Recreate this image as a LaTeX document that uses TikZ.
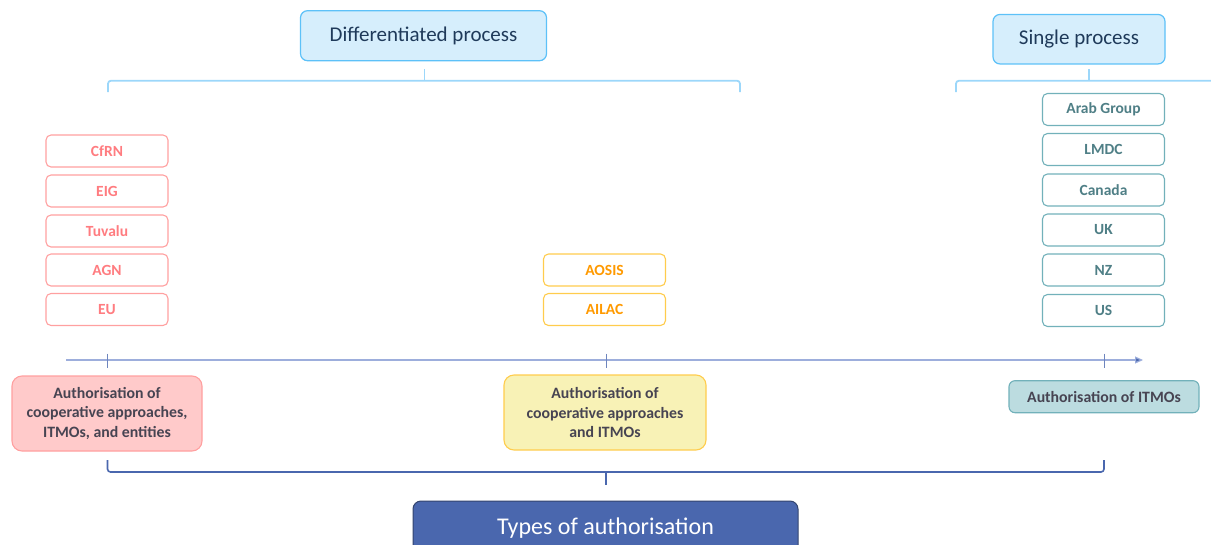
\documentclass[tikz,border=0pt]{standalone}
\usepackage{fontspec}
\setmainfont{Carlito}
\usetikzlibrary{arrows.meta}
\definecolor{procfill}{HTML}{D6EEFC}
\definecolor{procdraw}{HTML}{5DC1F8}
\definecolor{proctext}{HTML}{1F3A5A}
\definecolor{bracelight}{HTML}{9CD7FA}
\definecolor{redtext}{HTML}{FF7C80}
\definecolor{reddraw}{HTML}{FFA0A0}
\definecolor{redfill}{HTML}{FFCACA}
\definecolor{yeltext}{HTML}{FF9A00}
\definecolor{yeldraw}{HTML}{FFCC4D}
\definecolor{yelfill}{HTML}{F8F2B6}
\definecolor{tealtext}{HTML}{4F7F86}
\definecolor{tealdraw}{HTML}{72B1BA}
\definecolor{tealfill}{HTML}{BCDCE0}
\definecolor{darktext}{HTML}{474452}
\definecolor{axisline}{HTML}{9DAEDC}
\definecolor{navy}{HTML}{4A67AE}
\definecolor{navydraw}{HTML}{34456F}
\tikzset{
  x=1pt, y=-1pt,
  procbox/.style={draw=procdraw, fill=procfill, line width=1.2pt, rounded corners=7pt, text=proctext, font=\fontsize{21}{24}\selectfont, inner sep=0pt},
  member/.style={rounded corners=5pt, line width=1.1pt, fill=white, minimum width=122pt, minimum height=32pt, inner sep=0pt, font=\bfseries\fontsize{15.5}{17}\selectfont},
  redm/.style={member, draw=reddraw, text=redtext},
  yelm/.style={member, draw=yeldraw, text=yeltext},
  tealm/.style={member, draw=tealdraw, text=tealtext},
  authbox/.style={rounded corners=10pt, line width=1.1pt, inner sep=0pt, align=center, text=darktext, font=\bfseries\fontsize{15.8}{19.5}\selectfont},
  lightbrace/.style={draw=bracelight, line width=1.8pt, rounded corners=3pt},
  navybrace/.style={draw=navy, line width=1.6pt, rounded corners=3pt},
  axis/.style={draw=axisline, line width=1.2pt},
  tick/.style={draw=navy!80, line width=0.8pt}
}
\begin{document}
\begin{tikzpicture}
\useasboundingbox (0,0) rectangle (1211,544);
% process boxes
\node[procbox, minimum width=246pt, minimum height=50pt] (diff) at (423.5,35.7) {Differentiated process};
\node[procbox, minimum width=172pt, minimum height=49.5pt] (single) at (1079,39.2) {Single process};
% light braces
\coordinate (dl) at (108,92);
\coordinate (dr) at (740,92);
\coordinate (dm) at (424.5,69);
\draw[lightbrace] (dl) -- (108,80.7) -- (740,80.7) -- (dr);
\draw[draw=bracelight, line width=1.2pt] (dm) -- (424.5,80.7);
\coordinate (sl) at (956,92);
\coordinate (sr) at (1215,80.7);
\coordinate (sm) at (1089,69);
\draw[lightbrace] (sl) -- (956,80.7) -- (sr);
\draw[draw=bracelight, line width=1.2pt] (sm) -- (1089,80.7);
% red members
\node[redm] (cfrn) at (107,151) {CfRN};
\node[redm] (eig) at (107,191) {EIG};
\node[redm] (tuv) at (107,231) {Tuvalu};
\node[redm] (agn) at (107,270) {AGN};
\node[redm] (eu) at (107,309.5) {EU};
% yellow members
\node[yelm] (aosis) at (604.5,270) {AOSIS};
\node[yelm] (ailac) at (604.5,309.5) {AILAC};
% teal members
\node[tealm] (arab) at (1103.5,109.5) {Arab Group};
\node[tealm] (lmdc) at (1103.5,149.5) {LMDC};
\node[tealm] (can) at (1103.5,190) {Canada};
\node[tealm] (uk) at (1103.5,230) {UK};
\node[tealm] (nz) at (1103.5,270) {NZ};
\node[tealm] (us) at (1103.5,310.5) {US};
% axis
\coordinate (a0) at (66,360);
\coordinate (a1) at (1143,360);
\draw[axis, -{Triangle[length=8pt,width=7pt,fill=navy]}, shorten >=0pt] (a0) -- (a1);
\coordinate (t1) at (107,360);
\coordinate (t2) at (606,360);
\coordinate (t3) at (1104,360);
\draw[tick] (107,353.5) -- (107,367.5);
\draw[tick] (606,353.5) -- (606,367.5);
\draw[tick] (1104,353.5) -- (1104,367.5);
% authorisation boxes
\node[authbox, draw=reddraw, fill=redfill, minimum width=190pt, minimum height=75pt] (ra) at (107,413.5) {Authorisation of\\cooperative approaches,\\ITMOs, and entities};
\node[authbox, draw=yeldraw, fill=yelfill, minimum width=202pt, minimum height=75pt] (ya) at (605,412.5) {Authorisation of\\cooperative approaches\\and ITMOs};
\node[authbox, rounded corners=6pt, draw=tealdraw, fill=tealfill, minimum width=190pt, minimum height=32pt] (ta) at (1104,396.7) {Authorisation of ITMOs};
% bottom brace
\coordinate (bl) at (107.5,460);
\coordinate (br) at (1104,460);
\coordinate (bm) at (606,485);
\draw[navybrace] (bl) -- (107.5,472) -- (1104,472) -- (br);
\draw[draw=navy, line width=1.6pt] (606,472) -- (bm);
% types box
\node[draw=navydraw, fill=navy, line width=1pt, rounded corners=8pt, minimum width=385pt, minimum height=54pt, inner sep=0pt, text=white, font=\fontsize{24}{28}\selectfont] (types) at (605.5,528) {Types of authorisation};
\end{tikzpicture}
\end{document}
